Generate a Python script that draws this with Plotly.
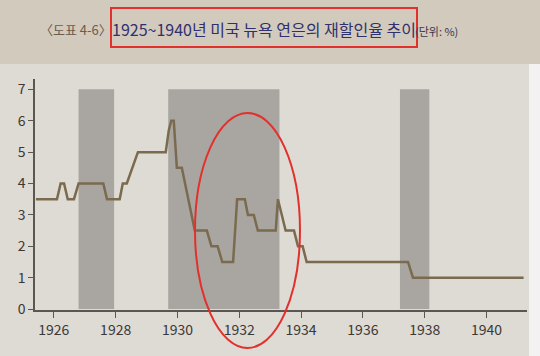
import plotly.graph_objects as go

# ---- data ----
dates = [1925.42, 1926.10, 1926.22, 1926.33, 1926.45, 1926.65, 1926.80, 1927.60, 1927.72,
         1928.13, 1928.23, 1928.36, 1928.72, 1929.62, 1929.72, 1929.80, 1929.88, 1929.98,
         1930.14, 1930.56, 1930.95, 1931.10, 1931.30, 1931.45, 1931.80, 1931.93, 1932.18,
         1932.28, 1932.47, 1932.60, 1933.18, 1933.25, 1933.50, 1933.77, 1933.90, 1934.05,
         1934.18, 1937.46, 1937.62, 1941.20]
rates = [3.5, 3.5, 4.0, 4.0, 3.5, 3.5, 4.0, 4.0, 3.5,
         3.5, 4.0, 4.0, 5.0, 5.0, 5.7, 6.0, 6.0, 4.5,
         4.5, 2.5, 2.5, 2.0, 2.0, 1.5, 1.5, 3.5, 3.5,
         3.0, 3.0, 2.5, 2.5, 3.5, 2.5, 2.5, 2.0, 2.0,
         1.5, 1.5, 1.0, 1.0]
recession_start = [1926.80, 1929.70, 1937.20]
recession_end = [1927.95, 1933.30, 1938.15]
x_ticks = [1926, 1928, 1930, 1932, 1934, 1936, 1938, 1940]
y_ticks = [0, 1, 2, 3, 4, 5, 6, 7]

W, H = 540, 356
L, R, T, B = 35, 13, 79, 46
PW, PH = W - L - R, H - T - B


def px(x):
    return (x - L) / PW


def py(y):
    return (H - B - y) / PH


FONT = "Noto Sans CJK KR"

fig = go.Figure()
fig.add_trace(go.Scatter(x=dates, y=rates, mode="lines",
                         line=dict(color="#7a6a4e", width=2.5),
                         hoverinfo="skip", showlegend=False))

shapes = []
# page background bands
shapes.append(dict(type="rect", xref="paper", yref="paper", x0=px(0), x1=px(W),
                   y0=py(64), y1=py(0), fillcolor="#d3cabe", line_width=0, layer="below"))
shapes.append(dict(type="rect", xref="paper", yref="paper", x0=px(529), x1=px(W),
                   y0=py(H), y1=py(64), fillcolor="#f3f2f0", line_width=0, layer="below"))
# recession shading
for s, e in zip(recession_start, recession_end):
    shapes.append(dict(type="rect", xref="x", yref="y", x0=s, x1=e, y0=0, y1=7,
                       fillcolor="#a9a6a2", line_width=0, layer="below"))
# red highlight box around title
shapes.append(dict(type="rect", xref="paper", yref="paper", x0=px(111), x1=px(417),
                   y0=py(47), y1=py(8), line=dict(color="#e2312c", width=2),
                   fillcolor="rgba(0,0,0,0)", layer="above"))
# red ellipse
shapes.append(dict(type="circle", xref="paper", yref="paper", x0=px(195), x1=px(300),
                   y0=py(348), y1=py(113), line=dict(color="#e2312c", width=2),
                   fillcolor="rgba(0,0,0,0)", layer="above"))

annotations = [
    dict(text="〈도표 4-6〉", x=px(38), y=py(29), xref="paper", yref="paper",
         xanchor="left", yanchor="middle", showarrow=False,
         font=dict(family=FONT, size=13, color="#6b5c4c")),
    dict(text="1925~1940년 미국 뉴욕 연은의 재할인율 추이", x=px(110), y=py(29),
         xref="paper", yref="paper", xanchor="left", yanchor="middle", showarrow=False,
         font=dict(family=FONT, size=16, color="#30306c")),
    dict(text="(단위: %)", x=px(413), y=py(31), xref="paper", yref="paper",
         xanchor="left", yanchor="middle", showarrow=False,
         font=dict(family=FONT, size=11, color="#3a3550")),
]

fig.update_layout(
    width=W, height=H,
    margin=dict(l=L, r=R, t=T, b=B),
    paper_bgcolor="#dedad4",
    plot_bgcolor="rgba(0,0,0,0)",
    shapes=shapes,
    annotations=annotations,
    showlegend=False,
    xaxis=dict(range=[1925.39, 1941.31], tickvals=x_ticks,
               ticktext=[str(t) for t in x_ticks], showgrid=False, zeroline=False,
               showline=True, linecolor="#5a5651", linewidth=1.5,
               ticks="outside", ticklen=6, tickcolor="#5a5651", tickwidth=1.2,
               tickfont=dict(family=FONT, size=14, color="#3b3835")),
    yaxis=dict(range=[-0.03, 7.33], tickvals=y_ticks, showgrid=False, zeroline=False,
               showline=True, linecolor="#5a5651", linewidth=1.5,
               ticks="outside", ticklen=5, tickcolor="#5a5651", tickwidth=1.2,
               tickfont=dict(family=FONT, size=14, color="#3b3835")),
)

fig.write_html("out.html", config={"displayModeBar": False},
               post_script="document.body.style.margin='0';document.body.style.overflow='hidden';")
